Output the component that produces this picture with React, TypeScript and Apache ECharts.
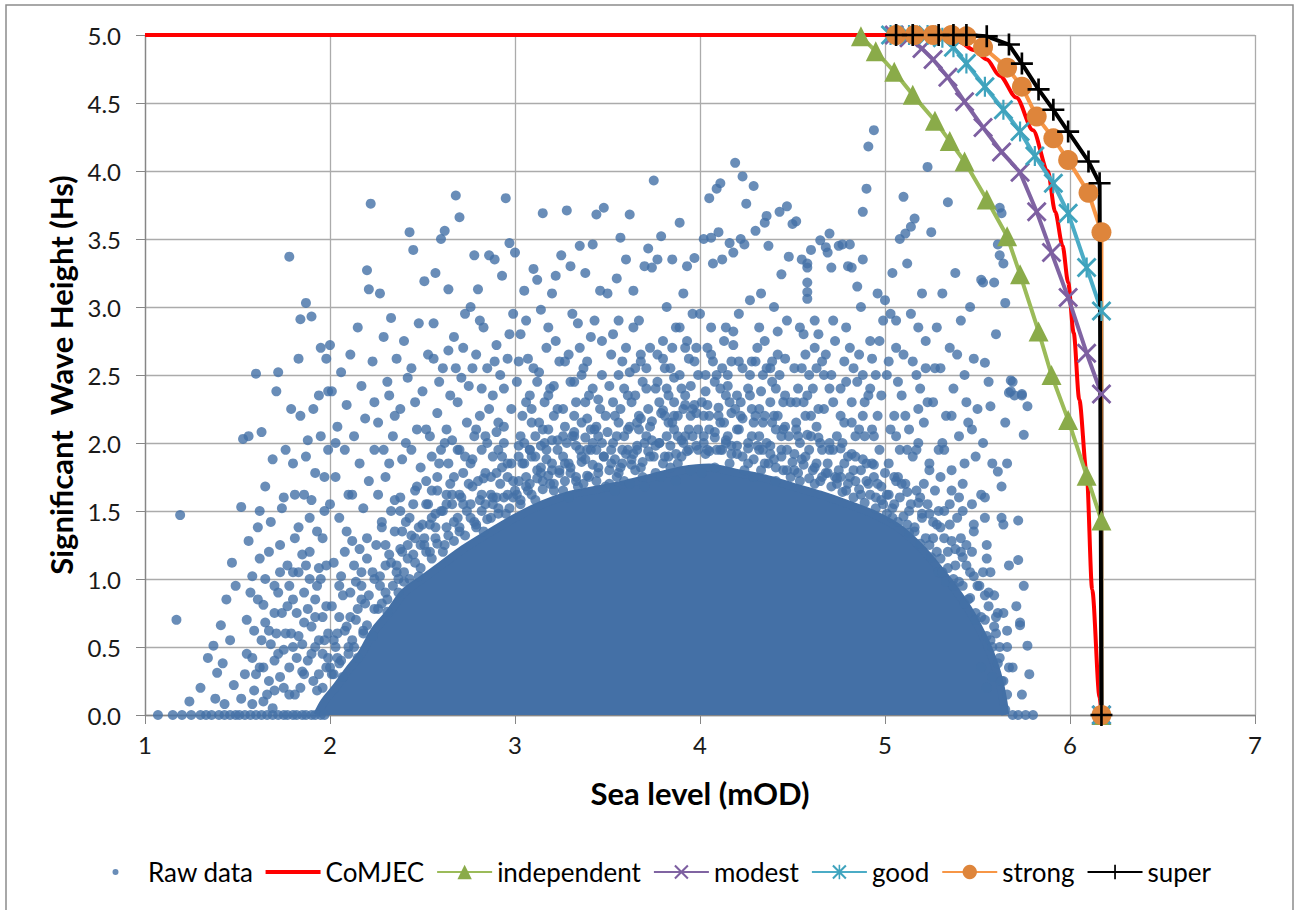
import React, { useEffect, useRef } from "react";
import * as echarts from "echarts";

// ---------- data ----------
const xTicks = [1, 2, 3, 4, 5, 6, 7];
const yTicks = [0, 0.5, 1, 1.5, 2, 2.5, 3, 3.5, 4, 4.5, 5];

// upper boundary of the solid (overlapping) core of the raw-data cloud
const rawDenseEdge: [number, number][] = [
  [1.93, 0], [1.97, 0.1], [2.03, 0.2], [2.1, 0.33], [2.17, 0.45], [2.24, 0.62], [2.32, 0.75], [2.4, 0.9],
  [2.5, 1.0], [2.6, 1.1], [2.72, 1.22], [2.85, 1.33], [3.0, 1.45], [3.15, 1.55], [3.3, 1.62], [3.45, 1.66],
  [3.6, 1.7], [3.75, 1.75], [3.9, 1.8], [4.05, 1.82], [4.2, 1.78], [4.35, 1.74], [4.5, 1.68], [4.65, 1.62],
  [4.8, 1.55], [4.95, 1.47], [5.08, 1.37], [5.2, 1.22], [5.3, 1.06], [5.38, 0.92], [5.45, 0.78], [5.5, 0.66],
  [5.55, 0.52], [5.59, 0.38], [5.62, 0.24], [5.64, 0.1], [5.65, 0],
];

// individual raw data points
const rawData: [number, number][] = [
  // 1.0 - 1.5
  [1.07, 0], [1.15, 0], [1.2, 0], [1.25, 0], [1.3, 0], [1.33, 0], [1.36, 0], [1.4, 0], [1.43, 0], [1.46, 0], [1.49, 0],
  [1.17, 0.7], [1.19, 1.47], [1.24, 0.1], [1.3, 0.2], [1.34, 0.42], [1.37, 0.51], [1.39, 0.31], [1.41, 0.66], [1.43, 0.08],
  [1.44, 0.85], [1.46, 0.55], [1.47, 1.12], [1.48, 0.22], [1.49, 0.95], [1.42, 0.38], [1.38, 0.12],
  // 1.5 - 1.75
  [1.51, 0], [1.54, 0], [1.57, 0], [1.6, 0], [1.63, 0], [1.66, 0], [1.69, 0], [1.72, 0], [1.52, 1.53], [1.53, 2.03],
  [1.56, 2.05], [1.58, 1.02], [1.59, 0.62], [1.6, 2.51], [1.61, 1.38], [1.62, 0.35], [1.63, 2.08], [1.64, 0.81], [1.65, 1.68],
  [1.66, 0.15], [1.67, 1.2], [1.68, 0.52], [1.69, 1.88], [1.7, 0.95], [1.71, 2.38], [1.72, 2.52], [1.73, 0.28], [1.74, 1.52],
  [1.55, 0.45], [1.57, 0.9], [1.59, 0.18], [1.62, 1.15], [1.65, 0.68], [1.68, 1.42], [1.7, 0.4], [1.73, 1.05], [1.74, 0.75],
  [1.56, 1.28], [1.64, 0.1], [1.71, 0.6],
  // 1.75 - 2.0
  [1.75, 0], [1.77, 0], [1.8, 0], [1.82, 0], [1.85, 0], [1.87, 0], [1.9, 0], [1.92, 0], [1.95, 0], [1.97, 0],
  [1.76, 1.95], [1.78, 3.37], [1.79, 2.25], [1.8, 0.85], [1.81, 1.62], [1.82, 0.42], [1.83, 2.62], [1.84, 2.91], [1.85, 1.18],
  [1.86, 0.68], [1.87, 3.03], [1.88, 2.02], [1.89, 1.45], [1.9, 2.93], [1.91, 0.25], [1.92, 1.78], [1.93, 0.95], [1.94, 2.35],
  [1.95, 2.7], [1.96, 1.3], [1.97, 0.55], [1.98, 2.62], [1.99, 1.95], [1.77, 1.1], [1.79, 0.6], [1.81, 0.15], [1.83, 1.38],
  [1.86, 0.3], [1.88, 0.78], [1.9, 1.58], [1.92, 0.5], [1.94, 1.08], [1.96, 0.72], [1.98, 0.35], [1.8, 1.85], [1.84, 2.2],
  [1.87, 1.9], [1.91, 2.25], [1.95, 2.05], [1.99, 2.38], [1.78, 0.95], [1.85, 0.52], [1.89, 1.0], [1.93, 0.18], [1.97, 1.5],
  [1.6, 0.3], [1.63, 0.55], [1.67, 0.25], [1.7, 0.75], [1.72, 0.45], [1.75, 0.2], [1.76, 0.6], [1.78, 0.35], [1.8, 0.5],
  [1.82, 0.75], [1.84, 0.2], [1.86, 0.9], [1.88, 0.4], [1.9, 0.65], [1.92, 0.85], [1.94, 0.3], [1.96, 0.45], [1.98, 0.8],
  [1.99, 0.6], [1.83, 1.05], [1.89, 1.2], [1.95, 1.0], [1.77, 0.8], [1.73, 1.25], [1.69, 0.05], [1.58, 0.08], [1.54, 0.3],
  [1.65, 1.0], [1.81, 1.3], [1.93, 1.35],
  [1.52, 0.12], [1.55, 0.7], [1.58, 0.42], [1.61, 0.85], [1.64, 0.35], [1.67, 0.62], [1.7, 0.18], [1.72, 0.9], [1.75, 0.48],
  [1.78, 0.15], [1.8, 1.05], [1.83, 0.58], [1.85, 0.32], [1.87, 1.1], [1.9, 0.45], [1.92, 0.72], [1.94, 0.55], [1.96, 0.2],
  [1.98, 1.1], [1.99, 0.42], [1.62, 1.5], [1.75, 1.6], [1.86, 1.62], [1.97, 1.75], [2.0, 1.55],
  // 2.0 - 2.25
  [2.0, 2.72], [2.01, 2.38], [2.02, 1.12], [2.03, 1.75], [2.04, 2.12], [2.05, 1.45], [2.06, 2.52], [2.07, 0.88], [2.08, 1.95],
  [2.09, 2.28], [2.1, 1.62], [2.11, 2.65], [2.12, 1.28], [2.13, 2.05], [2.14, 0.98], [2.15, 2.85], [2.16, 1.85], [2.17, 2.42],
  [2.18, 1.52], [2.19, 2.18], [2.2, 3.27], [2.21, 3.13], [2.22, 3.76], [2.23, 2.6], [2.24, 1.95], [2.02, 0.55], [2.05, 0.72],
  [2.08, 0.62], [2.11, 0.9], [2.14, 0.7], [2.17, 0.95], [2.2, 1.15], [2.23, 1.05], [2.06, 1.02], [2.12, 1.62], [2.16, 1.22],
  [2.21, 1.72], [2.24, 2.3], [2.03, 2.0], [2.09, 1.35], [2.19, 0.82], [2.01, 0.3], [2.04, 0.42], [2.1, 0.5],
  [2.0, 0.35], [2.03, 0.5], [2.06, 0.4], [2.09, 0.65], [2.12, 0.55], [2.15, 0.78], [2.18, 0.62], [2.21, 0.88], [2.24, 0.78],
  [2.05, 0.95], [2.13, 1.1], [2.2, 1.3], [2.01, 0.8], [2.08, 1.2], [2.17, 1.05],
  // 2.25 - 2.5
  [2.26, 2.15], [2.27, 3.1], [2.28, 1.38], [2.29, 2.78], [2.3, 1.75], [2.31, 2.45], [2.32, 1.18], [2.33, 2.92], [2.34, 2.05],
  [2.35, 1.58], [2.36, 2.62], [2.37, 1.0], [2.38, 2.25], [2.39, 1.88], [2.4, 2.75], [2.41, 1.42], [2.42, 2.48], [2.43, 3.55],
  [2.44, 1.95], [2.45, 3.42], [2.46, 2.3], [2.47, 1.68], [2.48, 2.88], [2.49, 1.25], [2.27, 0.95], [2.3, 1.25], [2.33, 1.5],
  [2.36, 1.1], [2.39, 1.35], [2.42, 1.15], [2.45, 1.55], [2.48, 1.02], [2.29, 1.95], [2.32, 2.35], [2.35, 2.2], [2.38, 1.6],
  [2.41, 2.0], [2.44, 2.55], [2.47, 2.1], [2.26, 1.62], [2.31, 0.85], [2.4, 0.98], [2.46, 1.3], [2.49, 1.82],
  [2.27, 1.02], [2.3, 0.9], [2.33, 1.12], [2.36, 1.05], [2.39, 1.2], [2.42, 1.25], [2.45, 1.18], [2.48, 1.38], [2.28, 1.42],
  [2.35, 1.35], [2.43, 1.45], [2.25, 1.25], [2.38, 1.5], [2.46, 1.65], [2.32, 1.85],
  // 2.5 - 2.75
  [2.5, 2.38], [2.51, 3.19], [2.52, 1.72], [2.53, 2.65], [2.54, 2.05], [2.55, 1.45], [2.56, 2.88], [2.57, 3.25], [2.58, 2.22],
  [2.59, 1.85], [2.6, 3.5], [2.61, 2.55], [2.62, 3.56], [2.63, 1.62], [2.64, 3.13], [2.65, 2.35], [2.66, 2.02], [2.67, 2.78],
  [2.68, 3.82], [2.69, 1.95], [2.7, 3.66], [2.71, 2.48], [2.72, 1.78], [2.73, 2.95], [2.74, 2.15], [2.51, 1.3], [2.53, 1.55],
  [2.55, 1.9], [2.57, 1.38], [2.59, 2.45], [2.61, 1.5], [2.63, 2.1], [2.65, 1.7], [2.67, 1.42], [2.69, 2.3], [2.71, 1.6],
  [2.73, 1.9], [2.52, 2.1], [2.56, 2.62], [2.6, 1.95], [2.64, 2.68], [2.68, 2.55], [2.72, 2.7], [2.54, 1.2], [2.58, 1.65],
  [2.62, 1.25], [2.66, 1.55], [2.7, 1.35], [2.74, 1.5],
  [2.51, 1.25], [2.54, 1.4], [2.57, 1.3], [2.6, 1.5], [2.63, 1.38], [2.66, 1.62], [2.69, 1.45], [2.72, 1.55], [2.52, 1.55],
  [2.58, 1.75], [2.64, 1.85], [2.7, 1.95], [2.55, 1.65], [2.67, 1.75], [2.62, 2.0],
  // 2.75 - 3.0
  [2.75, 2.42], [2.76, 3.0], [2.77, 1.88], [2.78, 3.38], [2.79, 2.65], [2.8, 3.13], [2.81, 2.2], [2.82, 1.62], [2.83, 2.85],
  [2.84, 2.05], [2.85, 2.55], [2.86, 3.38], [2.87, 1.75], [2.88, 2.35], [2.89, 3.35], [2.9, 2.72], [2.91, 1.95], [2.92, 2.5],
  [2.93, 3.23], [2.94, 2.12], [2.95, 3.8], [2.96, 2.62], [2.97, 3.47], [2.98, 1.85], [2.99, 2.95], [2.76, 1.55], [2.78, 2.05],
  [2.8, 1.72], [2.82, 2.4], [2.84, 1.55], [2.86, 2.25], [2.88, 1.6], [2.9, 2.08], [2.92, 1.7], [2.94, 2.4], [2.96, 1.62],
  [2.98, 2.25], [2.77, 2.55], [2.81, 2.9], [2.85, 2.0], [2.89, 2.6], [2.93, 1.9], [2.97, 2.8], [2.79, 1.4], [2.83, 1.35],
  [2.87, 1.45], [2.91, 1.52], [2.95, 1.48], [2.99, 1.6],
  [2.75, 1.7], [2.78, 1.42], [2.81, 1.58], [2.84, 1.78], [2.87, 1.62], [2.9, 1.6], [2.93, 1.82], [2.96, 1.75], [2.99, 1.72],
  [2.76, 1.85], [2.82, 1.95], [2.88, 1.9], [2.94, 2.0], [2.79, 2.1], [2.91, 2.15],
  // 3.0 - 3.25
  [3.0, 3.4], [3.01, 2.45], [3.02, 1.98], [3.03, 2.8], [3.04, 2.2], [3.05, 3.12], [3.06, 1.75], [3.07, 2.62], [3.08, 2.35],
  [3.09, 1.9], [3.1, 3.28], [3.11, 2.05], [3.12, 3.2], [3.13, 2.52], [3.14, 1.82], [3.15, 3.69], [3.16, 2.3], [3.17, 2.7],
  [3.18, 2.1], [3.19, 1.7], [3.2, 3.1], [3.21, 2.42], [3.22, 3.23], [3.23, 1.95], [3.24, 2.6], [3.01, 1.62], [3.03, 1.55],
  [3.05, 2.0], [3.07, 1.65], [3.09, 2.25], [3.11, 1.58], [3.13, 2.15], [3.15, 1.72], [3.17, 1.88], [3.19, 2.4], [3.21, 1.65],
  [3.23, 2.25], [3.02, 2.6], [3.06, 2.9], [3.1, 2.55], [3.14, 2.98], [3.18, 2.85], [3.22, 2.75], [3.04, 1.85], [3.08, 1.95],
  [3.12, 1.8], [3.16, 2.0], [3.2, 1.85], [3.24, 1.78],
  [3.02, 1.72], [3.05, 1.85], [3.08, 1.7], [3.11, 1.9], [3.14, 1.78], [3.17, 1.95], [3.2, 1.8], [3.23, 2.02], [3.03, 2.05],
  [3.09, 2.15], [3.15, 2.1], [3.21, 2.2], [3.06, 2.3], [3.18, 2.35], [3.12, 2.45],
  // 3.25 - 3.5
  [3.25, 3.38], [3.26, 2.25], [3.27, 1.85], [3.28, 3.71], [3.29, 2.65], [3.3, 3.3], [3.31, 2.05], [3.32, 2.45], [3.33, 1.72],
  [3.34, 2.88], [3.35, 3.45], [3.36, 2.15], [3.37, 2.55], [3.38, 3.25], [3.39, 1.95], [3.4, 2.35], [3.41, 2.78], [3.42, 3.46],
  [3.43, 2.1], [3.44, 3.68], [3.45, 1.82], [3.46, 3.12], [3.47, 2.5], [3.48, 3.73], [3.49, 2.2], [3.26, 1.65], [3.28, 2.0],
  [3.3, 1.78], [3.32, 2.2], [3.34, 1.68], [3.36, 1.9], [3.38, 2.3], [3.4, 1.75], [3.42, 2.0], [3.44, 1.72], [3.46, 2.25],
  [3.48, 1.9], [3.27, 2.6], [3.31, 2.95], [3.35, 2.7], [3.39, 2.6], [3.43, 2.9], [3.47, 2.75], [3.29, 1.6], [3.33, 1.98],
  [3.37, 1.7], [3.41, 1.95], [3.45, 2.05], [3.49, 1.68],
  [3.26, 1.9], [3.29, 1.85], [3.32, 2.05], [3.35, 1.95], [3.38, 1.88], [3.41, 2.1], [3.44, 1.95], [3.47, 2.0], [3.27, 2.12],
  [3.33, 2.3], [3.39, 2.18], [3.45, 2.32], [3.3, 2.45], [3.42, 2.4], [3.36, 2.5],
  // 3.5 - 3.75
  [3.5, 3.1], [3.51, 2.42], [3.52, 1.95], [3.53, 2.8], [3.54, 2.2], [3.55, 3.21], [3.56, 1.78], [3.57, 3.51], [3.58, 2.6],
  [3.59, 2.05], [3.6, 3.35], [3.61, 2.35], [3.62, 3.68], [3.63, 1.88], [3.64, 3.12], [3.65, 2.55], [3.66, 2.15], [3.67, 2.9],
  [3.68, 1.82], [3.69, 2.45], [3.7, 3.3], [3.71, 2.05], [3.72, 3.43], [3.73, 2.7], [3.74, 3.29], [3.51, 1.7], [3.53, 2.0],
  [3.55, 1.75], [3.57, 2.25], [3.59, 1.72], [3.61, 1.95], [3.63, 2.3], [3.65, 1.8], [3.67, 2.1], [3.69, 1.75], [3.71, 2.4],
  [3.73, 1.9], [3.52, 2.65], [3.56, 2.9], [3.6, 2.7], [3.64, 2.85], [3.68, 2.65], [3.72, 2.25], [3.54, 1.65], [3.58, 1.85],
  [3.62, 1.7], [3.66, 1.98], [3.7, 1.68], [3.74, 2.02],
  [3.52, 1.85], [3.55, 2.05], [3.58, 1.95], [3.61, 2.1], [3.64, 1.92], [3.67, 2.2], [3.7, 2.0], [3.73, 2.12], [3.53, 2.3],
  [3.59, 2.4], [3.65, 2.35], [3.71, 2.55], [3.56, 2.5], [3.68, 2.6], [3.62, 2.52],
  // 3.75 - 4.0
  [3.75, 3.93], [3.76, 2.4], [3.77, 3.35], [3.78, 2.0], [3.79, 3.52], [3.8, 2.75], [3.81, 2.2], [3.82, 3.0], [3.83, 1.9],
  [3.84, 2.55], [3.85, 3.35], [3.86, 2.1], [3.87, 2.85], [3.88, 1.85], [3.89, 3.62], [3.9, 2.4], [3.91, 3.1], [3.92, 2.05],
  [3.93, 3.3], [3.94, 2.62], [3.95, 2.2], [3.96, 2.95], [3.97, 3.36], [3.98, 1.98], [3.99, 2.5], [3.76, 1.78], [3.78, 2.3],
  [3.8, 1.85], [3.82, 2.4], [3.84, 1.82], [3.86, 2.3], [3.88, 2.2], [3.9, 1.9], [3.92, 2.35], [3.94, 1.95], [3.96, 2.25],
  [3.98, 2.7], [3.77, 2.65], [3.81, 2.55], [3.85, 2.7], [3.89, 2.85], [3.93, 2.75], [3.97, 2.6], [3.79, 1.75], [3.83, 2.15],
  [3.87, 1.72], [3.91, 2.0], [3.95, 1.8], [3.99, 2.1],
  [3.76, 1.98], [3.79, 2.22], [3.82, 2.05], [3.85, 2.15], [3.88, 2.05], [3.91, 2.25], [3.94, 2.1], [3.97, 2.28], [3.77, 2.45],
  [3.83, 2.35], [3.89, 2.5], [3.95, 2.42], [3.8, 2.62], [3.92, 2.7], [3.86, 2.48],
  // 4.0 - 4.25
  [4.0, 2.95], [4.01, 2.3], [4.02, 3.5], [4.03, 1.92], [4.04, 2.7], [4.05, 3.8], [4.06, 3.51], [4.07, 3.32], [4.08, 2.45],
  [4.09, 3.87], [4.1, 3.55], [4.11, 3.91], [4.12, 3.35], [4.13, 2.15], [4.14, 2.85], [4.15, 2.05], [4.16, 3.47], [4.17, 2.6],
  [4.18, 3.4], [4.19, 4.06], [4.2, 2.35], [4.21, 2.95], [4.22, 3.5], [4.23, 3.96], [4.24, 3.46], [4.01, 1.78], [4.03, 2.5],
  [4.05, 2.1], [4.07, 2.6], [4.09, 1.95], [4.11, 2.4], [4.13, 2.75], [4.15, 2.5], [4.17, 1.98], [4.19, 2.25], [4.21, 2.1],
  [4.23, 2.55], [4.02, 2.2], [4.06, 2.85], [4.1, 2.2], [4.14, 2.35], [4.18, 2.82], [4.22, 2.3], [4.04, 1.95], [4.08, 1.82],
  [4.12, 1.95], [4.16, 1.85], [4.2, 1.92], [4.24, 1.8],
  [4.02, 2.05], [4.05, 2.2], [4.08, 2.08], [4.11, 2.15], [4.14, 2.02], [4.17, 2.22], [4.2, 2.1], [4.23, 2.18], [4.03, 2.38],
  [4.09, 2.5], [4.15, 2.42], [4.21, 2.6], [4.06, 2.65], [4.18, 2.72], [4.12, 2.55],
  // 4.25 - 4.5
  [4.25, 3.76], [4.26, 2.4], [4.27, 3.05], [4.28, 2.05], [4.29, 3.89], [4.3, 3.56], [4.31, 2.7], [4.32, 2.25], [4.33, 3.1],
  [4.34, 1.95], [4.35, 3.62], [4.36, 3.67], [4.37, 3.45], [4.38, 2.55], [4.39, 2.15], [4.4, 3.0], [4.41, 2.4], [4.42, 2.82],
  [4.43, 3.7], [4.44, 3.24], [4.45, 2.1], [4.46, 2.62], [4.47, 3.74], [4.48, 3.37], [4.49, 2.3], [4.26, 1.85], [4.28, 2.6],
  [4.3, 2.2], [4.32, 2.85], [4.34, 2.5], [4.36, 2.0], [4.38, 2.3], [4.4, 1.88], [4.42, 2.2], [4.44, 1.95], [4.46, 2.35],
  [4.48, 2.05], [4.27, 2.35], [4.31, 1.98], [4.35, 2.75], [4.39, 2.6], [4.43, 2.5], [4.47, 2.9], [4.29, 1.75], [4.33, 1.8],
  [4.37, 1.85], [4.41, 1.72], [4.45, 1.8], [4.49, 1.75],
  [4.26, 2.0], [4.29, 2.15], [4.32, 2.05], [4.35, 2.2], [4.38, 1.98], [4.41, 2.1], [4.44, 2.05], [4.47, 1.95], [4.27, 2.5],
  [4.33, 2.38], [4.39, 2.45], [4.45, 2.3], [4.3, 2.6], [4.42, 2.65], [4.36, 2.55],
  // 4.5 - 4.75
  [4.5, 3.61], [4.51, 2.55], [4.52, 3.63], [4.53, 2.05], [4.54, 2.85], [4.55, 3.35], [4.56, 2.3], [4.57, 2.65], [4.58, 3.32],
  [4.58, 3.29], [4.58, 3.18], [4.58, 3.11], [4.58, 3.06], [4.59, 1.95], [4.6, 3.42], [4.61, 2.4], [4.62, 2.9], [4.63, 2.12],
  [4.65, 3.49], [4.66, 2.6], [4.68, 3.44], [4.69, 3.4], [4.7, 3.54], [4.71, 3.29], [4.72, 2.3], [4.73, 2.75], [4.74, 2.05],
  [4.51, 1.8], [4.53, 2.4], [4.55, 1.88], [4.57, 2.2], [4.59, 2.5], [4.61, 1.8], [4.63, 2.55], [4.65, 2.0], [4.67, 2.25],
  [4.69, 1.85], [4.71, 2.5], [4.73, 1.75], [4.52, 2.15], [4.56, 2.8], [4.6, 2.2], [4.64, 2.8], [4.68, 2.65], [4.72, 2.9],
  [4.54, 1.72], [4.62, 1.7], [4.66, 1.75], [4.7, 1.95], [4.74, 1.7],
  [4.51, 1.92], [4.54, 2.0], [4.57, 1.9], [4.6, 2.05], [4.63, 1.85], [4.66, 1.95], [4.69, 1.78], [4.72, 1.95], [4.52, 2.3],
  [4.58, 2.35], [4.64, 2.25], [4.7, 2.4], [4.55, 2.55], [4.67, 2.5], [4.62, 2.7],
  // 4.75 - 5.0
  [4.75, 3.45], [4.76, 2.4], [4.77, 3.46], [4.78, 2.15], [4.79, 2.85], [4.8, 3.3], [4.81, 3.46], [4.82, 3.29], [4.83, 2.55],
  [4.84, 2.05], [4.85, 3.15], [4.86, 2.65], [4.87, 3.0], [4.88, 3.35], [4.88, 3.7], [4.89, 2.3], [4.9, 3.87], [4.91, 4.18],
  [4.92, 2.75], [4.93, 2.1], [4.94, 4.3], [4.95, 2.5], [4.96, 3.1], [4.97, 1.95], [4.98, 2.35], [4.99, 2.9], [4.76, 1.75],
  [4.78, 2.6], [4.8, 1.9], [4.82, 2.3], [4.84, 1.72], [4.86, 2.1], [4.88, 2.5], [4.9, 1.85], [4.92, 2.4], [4.94, 1.75],
  [4.96, 2.2], [4.98, 1.68], [4.77, 2.0], [4.81, 2.7], [4.85, 2.45], [4.89, 2.05], [4.93, 2.62], [4.97, 2.75], [4.79, 1.65],
  [4.83, 1.8], [4.87, 1.62], [4.91, 1.7], [4.95, 1.6], [4.99, 1.55],
  [4.75, 1.8], [4.78, 1.85], [4.81, 1.75], [4.84, 1.9], [4.87, 1.8], [4.9, 1.72], [4.93, 1.85], [4.96, 1.7], [4.76, 2.2],
  [4.82, 2.15], [4.88, 2.2], [4.94, 2.05], [4.79, 2.45], [4.91, 2.35],
  // 5.0 - 5.25
  [5.0, 3.05], [5.01, 2.5], [5.02, 1.85], [5.03, 2.95], [5.04, 3.25], [5.05, 2.2], [5.06, 2.7], [5.07, 1.75], [5.08, 3.5],
  [5.09, 2.35], [5.1, 3.81], [5.11, 3.54], [5.12, 3.32], [5.13, 2.1], [5.14, 3.59], [5.15, 2.6], [5.16, 3.65], [5.17, 1.95],
  [5.18, 2.85], [5.19, 2.4], [5.2, 3.1], [5.21, 2.15], [5.22, 2.75], [5.23, 4.03], [5.24, 1.8], [5.01, 1.62], [5.03, 2.1],
  [5.05, 1.55], [5.07, 2.45], [5.09, 1.7], [5.11, 2.2], [5.13, 1.5], [5.15, 1.9], [5.17, 2.5], [5.19, 1.6], [5.21, 1.7],
  [5.23, 2.3], [5.02, 2.6], [5.06, 2.9], [5.1, 2.65], [5.14, 2.95], [5.18, 2.25], [5.22, 2.55], [5.04, 1.45], [5.08, 1.95],
  [5.12, 1.4], [5.16, 1.35], [5.2, 1.45], [5.24, 1.25],
  [5.02, 1.62], [5.05, 1.75], [5.08, 1.6], [5.11, 1.7], [5.14, 1.55], [5.17, 1.65], [5.2, 1.48], [5.23, 1.55], [5.06, 2.05],
  [5.12, 1.95], [5.18, 2.0], [5.24, 1.85],
  // 5.25 - 5.5
  [5.25, 3.55], [5.26, 2.3], [5.27, 1.65], [5.28, 2.85], [5.29, 1.95], [5.3, 2.55], [5.31, 3.1], [5.32, 1.5], [5.33, 2.2],
  [5.34, 3.77], [5.35, 2.7], [5.36, 1.8], [5.37, 2.4], [5.38, 3.25], [5.39, 1.45], [5.4, 2.05], [5.41, 2.9], [5.42, 1.7],
  [5.43, 2.5], [5.44, 1.25], [5.45, 2.15], [5.46, 3.0], [5.47, 1.55], [5.48, 2.62], [5.49, 1.9], [5.26, 1.3], [5.28, 1.4],
  [5.3, 1.15], [5.32, 1.95], [5.34, 1.2], [5.36, 2.2], [5.38, 1.1], [5.4, 1.6], [5.42, 0.95], [5.44, 2.3], [5.46, 1.05],
  [5.48, 1.4], [5.27, 2.55], [5.31, 2.0], [5.35, 1.55], [5.39, 2.65], [5.43, 1.85], [5.47, 2.1], [5.29, 1.05], [5.33, 0.98],
  [5.37, 1.0], [5.41, 1.2], [5.45, 0.85], [5.49, 0.75],
  [5.26, 1.42], [5.29, 1.5], [5.32, 1.3], [5.35, 1.4], [5.38, 1.22], [5.41, 1.3], [5.44, 1.1], [5.47, 1.2], [5.3, 1.75],
  [5.36, 1.65], [5.42, 1.5], [5.48, 1.35],
  // 5.5 - 5.85
  [5.5, 2.25], [5.51, 0.95], [5.52, 1.62], [5.53, 3.18], [5.54, 0.7], [5.55, 1.25], [5.56, 2.45], [5.57, 0.55], [5.58, 1.85],
  [5.59, 0.88], [5.6, 2.8], [5.61, 3.46], [5.62, 3.73], [5.63, 3.69], [5.64, 3.32], [5.62, 0.42], [5.63, 1.45], [5.64, 0.25],
  [5.65, 2.15], [5.66, 0.62], [5.67, 1.1], [5.68, 2.46], [5.69, 0.35], [5.7, 2.35], [5.71, 0.8], [5.72, 1.43], [5.72, 1.14],
  [5.73, 0.66], [5.74, 0.15], [5.75, 0.95], [5.77, 0.51], [5.78, 0.3], [5.69, 0], [5.65, 0.04], [5.72, 0], [5.76, 0],
  [5.8, 0], [5.52, 0.35], [5.55, 0.2], [5.58, 0.28], [5.6, 0.6], [5.53, 2.0], [5.57, 1.05], [5.61, 0.75], [5.66, 1.85],
  [5.54, 1.45], [5.75, 2.06], [5.77, 2.27], [5.74, 2.35], [5.67, 2.37], [5.57, 2.27], [5.63, 1.68], [5.61, 1.79], [5.54, 1.6],
  [5.64, 1.4], [5.62, 3.38], [5.52, 3.2], [5.59, 3.18], [5.65, 3.03], [5.54, 2.59], [5.69, 2.45], [5.68, 2.38], [5.74, 2.36],
  [5.64, 0.75], [5.56, 0.9], [5.73, 0.68], [5.5, 0.95], [5.53, 1.05], [5.56, 0.8], [5.59, 0.65], [5.62, 0.5], [5.55, 1.15],
  // crowded points along the top of the dense core
  [2.02, 0.3], [2.05, 0.38], [2.07, 0.28], [2.1, 0.45], [2.13, 0.5], [2.15, 0.42], [2.18, 0.6], [2.2, 0.66], [2.23, 0.58],
  [2.26, 0.78], [2.28, 0.82], [2.31, 0.76], [2.34, 0.95], [2.37, 0.9], [2.4, 1.05], [2.43, 1.0], [2.46, 1.12], [2.49, 1.08],
  [2.52, 1.2], [2.55, 1.15], [2.58, 1.26], [2.61, 1.2], [2.64, 1.32], [2.67, 1.28], [2.7, 1.38], [2.73, 1.32], [2.76, 1.45],
  [2.79, 1.38], [2.82, 1.5], [2.85, 1.44], [2.88, 1.55], [2.91, 1.48], [2.94, 1.6], [2.97, 1.52], [3.0, 1.65], [3.03, 1.58],
  [3.06, 1.68], [3.09, 1.62], [3.12, 1.74], [3.15, 1.66], [3.18, 1.76], [3.21, 1.7], [3.24, 1.8], [3.27, 1.72], [3.3, 1.82],
  [3.33, 1.75], [3.36, 1.86], [3.39, 1.76], [3.42, 1.84], [3.45, 1.78], [3.48, 1.9], [3.51, 1.8], [3.54, 1.88], [3.57, 1.82],
  [3.6, 1.92], [3.63, 1.84], [3.66, 1.95], [3.69, 1.86], [3.72, 1.94], [3.75, 1.9], [3.78, 2.0], [3.81, 1.9], [3.84, 1.98],
  [3.87, 1.92], [3.9, 2.02], [3.93, 1.94], [3.96, 2.05], [3.99, 1.95], [4.02, 2.0], [4.05, 1.94], [4.08, 2.04], [4.11, 1.95],
  [4.14, 2.0], [4.17, 1.92], [4.2, 1.98], [4.23, 1.9], [4.26, 1.96], [4.29, 1.88], [4.32, 1.95], [4.35, 1.85], [4.38, 1.92],
  [4.41, 1.82], [4.44, 1.9], [4.47, 1.8], [4.5, 1.86], [4.53, 1.78], [4.56, 1.84], [4.59, 1.74], [4.62, 1.82], [4.65, 1.72],
  [4.68, 1.78], [4.71, 1.68], [4.74, 1.74], [4.77, 1.64], [4.8, 1.7], [4.83, 1.6], [4.86, 1.66], [4.89, 1.56], [4.92, 1.62],
  [4.95, 1.52], [4.98, 1.58], [5.01, 1.48], [5.04, 1.52], [5.07, 1.42], [5.1, 1.46], [5.13, 1.34], [5.16, 1.38], [5.19, 1.26],
  [5.22, 1.3], [5.25, 1.16], [5.28, 1.2], [5.31, 1.05], [5.34, 1.08], [5.37, 0.95], [5.4, 0.98], [5.43, 0.82], [5.46, 0.86],
  [5.49, 0.7], [5.52, 0.72], [5.55, 0.58], [5.58, 0.5], [5.61, 0.38], [5.63, 0.25], [5.66, 0.15], [5.67, 0.35],
  [2.04, 0.6], [2.11, 0.72], [2.17, 0.85], [2.24, 1.0], [2.3, 1.1], [2.38, 1.22], [2.44, 1.32], [2.5, 1.4], [2.57, 1.48],
  [2.63, 1.55], [2.7, 1.62], [2.77, 1.68], [2.83, 1.74], [2.9, 1.78], [2.96, 1.85], [3.02, 1.9], [3.08, 1.95], [3.14, 1.98],
  [3.2, 2.02], [3.26, 2.05], [3.32, 2.08], [3.38, 2.04], [3.44, 2.12], [3.5, 2.08], [3.56, 2.15], [3.62, 2.12], [3.68, 2.18],
  [3.74, 2.16], [3.8, 2.24], [3.86, 2.2], [3.92, 2.28], [3.98, 2.22], [4.04, 2.28], [4.1, 2.26], [4.16, 2.3], [4.22, 2.2],
  [4.28, 2.25], [4.34, 2.15], [4.4, 2.2], [4.46, 2.12], [4.52, 2.1], [4.58, 2.06], [4.64, 2.04], [4.7, 2.0], [4.76, 1.96],
  [4.82, 1.92], [4.88, 1.88], [4.94, 1.84], [5.0, 1.78], [5.06, 1.72], [5.12, 1.64], [5.18, 1.56], [5.24, 1.48], [5.3, 1.38],
  [5.36, 1.28], [5.42, 1.16], [5.48, 1.02], [5.54, 0.88], [5.6, 0.72], [5.66, 0.5],
];

const comjec: [number, number][] = [
  [1, 5], [5.3, 5], [5.4, 4.95], [5.48, 4.89], [5.55, 4.82], [5.62, 4.7], [5.71, 4.54], [5.8, 4.3], [5.88, 4.0],
  [5.92, 3.7], [5.96, 3.45], [5.99, 3.18], [6.02, 2.81], [6.05, 2.32], [6.09, 1.78], [6.12, 0.92], [6.16, 0.13], [6.17, 0],
];
const independent: [number, number][] = [
  [4.87, 4.99], [4.95, 4.88], [5.05, 4.73], [5.15, 4.56], [5.27, 4.37], [5.35, 4.22], [5.43, 4.07], [5.55, 3.79],
  [5.66, 3.52], [5.73, 3.24], [5.83, 2.82], [5.9, 2.5], [5.99, 2.17], [6.09, 1.76], [6.17, 1.43], [6.17, 0],
];
const modest: [number, number][] = [
  [5.05, 5.0], [5.13, 4.98], [5.2, 4.9], [5.26, 4.82], [5.34, 4.69], [5.43, 4.51], [5.53, 4.32], [5.63, 4.14],
  [5.73, 3.99], [5.82, 3.7], [5.9, 3.4], [5.99, 3.07], [6.09, 2.66], [6.17, 2.36], [6.17, 0],
];
const good: [number, number][] = [
  [5.03, 5.0], [5.13, 5.0], [5.23, 5.0], [5.31, 4.98], [5.37, 4.91], [5.44, 4.79], [5.54, 4.62], [5.64, 4.45],
  [5.73, 4.29], [5.81, 4.11], [5.91, 3.91], [5.99, 3.69], [6.09, 3.29], [6.17, 2.97], [6.17, 0],
];
const strong: [number, number][] = [
  [5.06, 5.0], [5.16, 5.0], [5.26, 5.0], [5.36, 5.0], [5.44, 4.99], [5.53, 4.91], [5.66, 4.76], [5.74, 4.62],
  [5.82, 4.4], [5.91, 4.24], [5.99, 4.08], [6.1, 3.84], [6.17, 3.55], [6.17, 0],
];
const superDep: [number, number][] = [
  [5.06, 5.0], [5.15, 5.0], [5.29, 5.0], [5.37, 5.0], [5.44, 5.0], [5.55, 4.99], [5.67, 4.93], [5.74, 4.79],
  [5.83, 4.6], [5.91, 4.45], [5.99, 4.29], [6.1, 4.07], [6.16, 3.91], [6.17, 0],
];

const legendNames = ["Raw data", "CoMJEC", "independent", "modest", "good", "strong", "super"];

// ---------- styling ----------
const FONT = "Lato, 'Open Sans', sans-serif";
const BLUE = "#4470a6";
const X_PATH = "path://M1,0L5,4L9,0L10,1L6,5L10,9L9,10L5,6L1,10L0,9L4,5L0,1Z";
const STAR_PATH = "path://M1,0L5,4L9,0L10,1L6,5L10,9L9,10L5,6L1,10L0,9L4,5L0,1Z M4.45,0L5.55,0L5.55,10L4.45,10Z";
const PLUS_PATH = "path://M4.4,0L5.6,0L5.6,4.4L10,4.4L10,5.6L5.6,5.6L5.6,10L4.4,10L4.4,5.6L0,5.6L0,4.4L4.4,4.4Z";
const DOT_ICON = "path://M0,0L0.01,0M55,18L54.99,18M24.5,9A3,3 0 1,0 30.5,9A3,3 0 1,0 24.5,9Z";
const BAR_ICON = "path://M0,0L55,0L55,4L0,4Z";

export default function App() {
  const ref = useRef<HTMLDivElement>(null);

  useEffect(() => {
    document.body.style.margin = "0";
    if (!ref.current) return;
    const chart = echarts.init(ref.current, undefined, { renderer: "svg" });

    const lineSeries = (
      name: string,
      data: [number, number][],
      lineColor: string,
      markColor: string,
      symbol: string,
      symbolSize: number,
      smooth: number | boolean = false
    ) => ({
      name,
      type: "line",
      data,
      symbol,
      symbolSize,
      showSymbol: symbol !== "none",
      smooth,
      smoothMonotone: "x",
      clip: false,
      lineStyle: { color: lineColor, width: 4 },
      itemStyle: { color: markColor },
      z: 5,
    });

    chart.setOption({
      animation: false,
      backgroundColor: "#ffffff",
      graphic: [
        {
          type: "rect",
          shape: { x: 6, y: 5, width: 1287, height: 1000 },
          style: { fill: "none", stroke: "#8c8c8c", lineWidth: 1.5 },
          silent: true,
        },
      ],
      grid: { left: 145, right: 46, top: 35, bottom: 195 },
      xAxis: {
        type: "value",
        min: xTicks[0],
        max: xTicks[xTicks.length - 1],
        interval: 1,
        name: "Sea level (mOD)",
        nameLocation: "middle",
        nameGap: 62,
        nameTextStyle: { fontFamily: FONT, fontSize: 31, fontWeight: "bold", color: "#000" },
        axisLine: { onZero: false, lineStyle: { color: "#868686", width: 1.3 } },
        axisTick: { show: true, length: 9, lineStyle: { color: "#868686" } },
        axisLabel: { fontFamily: FONT, fontSize: 24, color: "#1a1a1a", margin: 17 },
        splitLine: { show: true, lineStyle: { color: "#ababab", width: 1.3 } },
      },
      yAxis: {
        type: "value",
        min: yTicks[0],
        max: yTicks[yTicks.length - 1],
        interval: 0.5,
        name: "Significant  Wave Height (Hs)",
        nameLocation: "middle",
        nameGap: 68,
        nameTextStyle: { fontFamily: FONT, fontSize: 31, fontWeight: "bold", color: "#000" },
        axisLine: { show: true, lineStyle: { color: "#868686", width: 1.3 } },
        axisTick: { show: true, length: 9, lineStyle: { color: "#868686" } },
        axisLabel: {
          fontFamily: FONT,
          fontSize: 24,
          color: "#1a1a1a",
          margin: 24,
          formatter: (v: number) => v.toFixed(1),
        },
        splitLine: { show: true, lineStyle: { color: "#ababab", width: 1.3 } },
      },
      legend: {
        left: 83,
        top: 854,
        itemWidth: 55,
        itemHeight: 18,
        itemGap: 12,
        textStyle: { fontFamily: FONT, fontSize: 26, color: "#000" },
        data: [
          { name: legendNames[0], icon: DOT_ICON },
          { name: legendNames[1], icon: BAR_ICON },
          legendNames[2],
          legendNames[3],
          legendNames[4],
          legendNames[5],
          legendNames[6],
        ],
      },
      series: [
        {
          name: "Raw data core",
          type: "line",
          data: rawDenseEdge,
          symbol: "none",
          smooth: 0.3,
          lineStyle: { color: BLUE, width: 8, join: "round" },
          areaStyle: { color: BLUE, opacity: 1 },
          z: 1,
          silent: true,
        },
        {
          name: legendNames[0],
          type: "scatter",
          data: rawData,
          symbol: "circle",
          symbolSize: 10,
          itemStyle: { color: BLUE },
          z: 2,
        },
        lineSeries(legendNames[1], comjec, "#ff0000", "#ff0000", "none", 0, 0.3),
        lineSeries(legendNames[2], independent, "#9bbb59", "#8aab49", "triangle", 20),
        lineSeries(legendNames[3], modest, "#8064a2", "#7d5fa1", X_PATH, 20),
        lineSeries(legendNames[4], good, "#4bacc6", "#3fa3bd", STAR_PATH, 20),
        lineSeries(legendNames[5], strong, "#f79646", "#de853b", "circle", 20),
        lineSeries(legendNames[6], superDep, "#000000", "#000000", PLUS_PATH, 22),
      ],
    });

    return () => chart.dispose();
  }, []);

  return (
    <div
      ref={ref}
      style={{ position: "absolute", left: 0, top: 0, width: 1301, height: 910 }}
    />
  );
}
